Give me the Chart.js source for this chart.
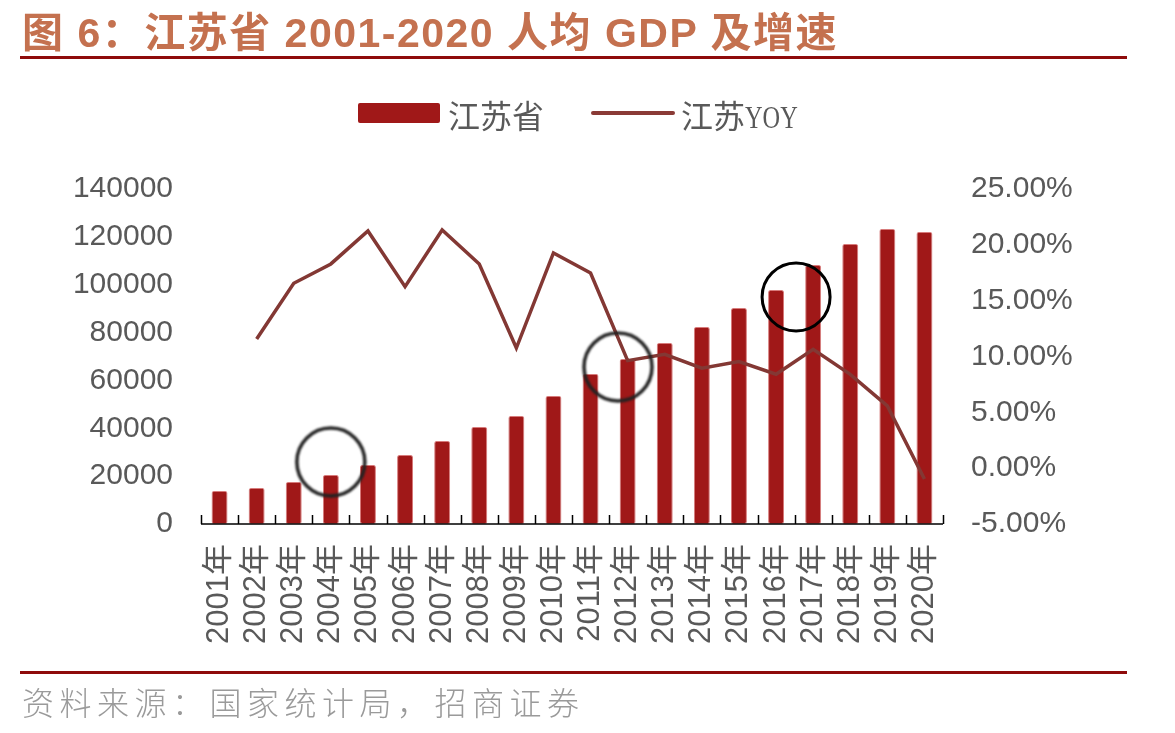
<!DOCTYPE html>
<html>
<head>
<meta charset="utf-8">
<script src="https://cdn.jsdelivr.net/npm/chart.js@4/dist/chart.umd.min.js"></script>
<style>
  html, body { margin:0; padding:0; background:#fff; }
  body { width:1175px; height:733px; position:relative; overflow:hidden; font-family:"Liberation Sans","Noto Sans CJK SC",sans-serif; }
  #wrap { position:absolute; left:0; top:0; width:1175px; height:733px; }
  .title { position:absolute; left:22px; top:-1px; font-size:41px; font-weight:bold; color:#C4714F; white-space:nowrap; font-family:"Liberation Sans","Noto Sans CJK SC",sans-serif; letter-spacing:1.5px; }
  .rule { position:absolute; left:20px; width:1107px; height:3px; background:#8E0B0B; }
  .source { position:absolute; left:22px; top:678px; font-size:32px; color:#9A9A9A; white-space:nowrap; font-family:"Noto Sans CJK SC",sans-serif; font-weight:300; letter-spacing:5.5px; }
  .legend { position:absolute; top:92px; left:0; height:44px; font-size:32px; color:#595959; font-family:"Noto Sans CJK SC",sans-serif; }
  .lg-item { position:absolute; top:0; white-space:nowrap; line-height:44px; }
  .lg-bar { position:absolute; width:82px; height:20px; background:#A01818; border-radius:2px; }
  .lg-line { position:absolute; width:84px; height:4px; background:#8A3A36; border-radius:2px; }
  .yoy { display:inline-block; font-family:"Liberation Serif",serif; transform:scaleX(0.76); transform-origin:left center; }
</style>
</head>
<body>
<div id="wrap"><canvas id="c"></canvas></div>
<div class="title">图 6：江苏省 2001-2020 人均 GDP 及增速</div>
<div class="rule" style="top:56px"></div>
<div class="legend">
  <div class="lg-bar" style="left:358px; top:11px"></div>
  <div class="lg-item" style="left:448px">江苏省</div>
  <div class="lg-line" style="left:591px; top:19px"></div>
  <div class="lg-item" style="left:681px">江苏<span class="yoy">YOY</span></div>
</div>
<div class="rule" style="top:671px"></div>
<div class="source">资料来源：国家统计局，招商证券</div>
<script>
// ---- data ----
const categories = ["2001年","2002年","2003年","2004年","2005年","2006年","2007年","2008年","2009年","2010年",
                    "2011年","2012年","2013年","2014年","2015年","2016年","2017年","2018年","2019年","2020年"];
const gdpPerCapita = [13790, 15040, 17550, 20480, 24660, 28840, 34690, 40540, 45130, 53490,
                      62690, 68950, 75640, 82330, 90260, 97790, 108240, 117010, 123280, 122030];
const yoyPercent = [null, 11.57, 16.56, 18.29, 21.24, 16.26, 21.33, 18.29, 10.76, 19.27,
                    17.48, 9.63, 10.2, 8.95, 9.54, 8.41, 10.65, 8.4, 5.57, -0.97];
const leftTicks = [0, 140000, 20000];   // min, max, step
const rightTicks = [-5, 25, 5];         // min, max, step (percent)
// highlight circles: position in category index units and left-axis value
const circleIndex = [3, 10.74, 15.54];
const circleValue = [25900, 65600, 94900];

const axisPlugin = {
  id: 'axisTicks',
  afterDatasetsDraw(chart) {
    const ctx = chart.ctx, x = chart.scales.x, y = chart.scales.y;
    const base = chart.chartArea.bottom;
    ctx.save();
    ctx.strokeStyle = '#000';
    ctx.lineWidth = 1.5;
    ctx.beginPath();
    ctx.moveTo(chart.chartArea.left, base);
    ctx.lineTo(chart.chartArea.right, base);
    for (let i = 0; i <= categories.length; i++) {
      const px = Math.round(x.getPixelForValue(i - 0.5)) + 0.5;
      ctx.moveTo(px, base);
      ctx.lineTo(px, base - 9);
    }
    ctx.stroke();
    // circles
    for (let k = 0; k < circleIndex.length; k++) {
      const cx = x.getPixelForValue(circleIndex[k]);
      const cy = y.getPixelForValue(circleValue[k]);
      ctx.save();
      if (k < 2) { ctx.filter = 'blur(1px)'; ctx.strokeStyle = '#222'; ctx.lineWidth = 3.5; }
      else { ctx.strokeStyle = '#000'; ctx.lineWidth = 3; }
      ctx.beginPath();
      ctx.arc(cx, cy, 34, 0, Math.PI * 2);
      ctx.stroke();
      ctx.restore();
    }
    ctx.restore();
  }
};

new Chart(document.getElementById('c'), {
  data: {
    labels: categories,
    datasets: [
      {
        type: 'line', label: '江苏YOY', data: yoyPercent, yAxisID: 'y1',
        borderColor: '#833834', borderWidth: 3.5, pointRadius: 0, tension: 0,
        order: 0, spanGaps: false
      },
      {
        type: 'bar', label: '江苏省', data: gdpPerCapita, yAxisID: 'y',
        backgroundColor: '#A01818', borderColor: 'rgba(205,90,90,0.8)', borderWidth: 1,
        borderRadius: 2, borderSkipped: false,
        barPercentage: 0.43, categoryPercentage: 1.0, order: 1
      }
    ]
  },
  options: {
    responsive: true, maintainAspectRatio: false, animation: false,
    layout: { padding: { top: 189, left: 0, right: 0, bottom: 0 } },
    plugins: { legend: { display: false }, tooltip: { enabled: false } },
    scales: {
      x: {
        type: 'category', offset: true,
        grid: { display: false, drawTicks: false },
        border: { display: false },
        ticks: { autoSkip: false, maxRotation: 90, minRotation: 90, padding: 20, color: '#595959',
                 font: { family: "'Liberation Sans','Noto Sans CJK SC'", size: 31 } },
        afterFit(s) { s.height = 209; }
      },
      y: {
        position: 'left', min: leftTicks[0], max: leftTicks[1],
        grid: { display: false, drawTicks: false }, border: { display: false },
        ticks: { stepSize: leftTicks[2], padding: 28, color: '#595959',
                 font: { family: "'Liberation Sans'", size: 30 },
                 callback: v => String(v) },
        afterFit(s) { s.width = 201; }
      },
      y1: {
        position: 'right', min: rightTicks[0], max: rightTicks[1],
        grid: { display: false, drawTicks: false }, border: { display: false },
        ticks: { stepSize: rightTicks[2], padding: 28, color: '#595959',
                 font: { family: "'Liberation Sans'", size: 30 },
                 callback: v => Number(v).toFixed(2) + '%' },
        afterFit(s) { s.width = 232; }
      }
    }
  },
  plugins: [axisPlugin]
});
</script>
</body>
</html>
